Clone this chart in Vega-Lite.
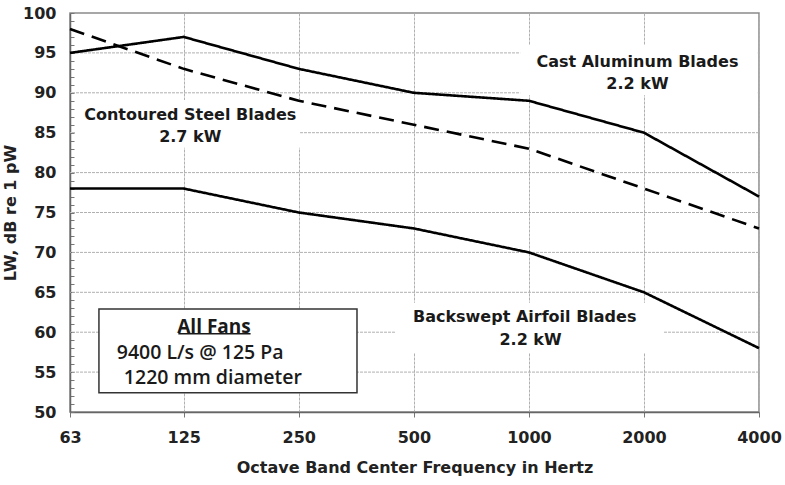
{
  "$schema": "https://vega.github.io/schema/vega-lite/v6.json",
  "width": 689,
  "height": 399,
  "autosize": "none",
  "padding": {"left": 70, "top": 13, "right": 26, "bottom": 73},
  "background": "white",
  "config": {
    "view": {"stroke": "#8a8a8a", "strokeWidth": 1.5},
    "font": "DejaVu Sans",
    "axis": {
      "labelFont": "DejaVu Sans", "labelFontWeight": "bold", "labelFontSize": 16, "labelColor": "#222",
      "titleFont": "DejaVu Sans", "titleFontWeight": "bold", "titleFontSize": 16, "titleColor": "#222",
      "domainColor": "#666", "domainWidth": 1.5, "tickColor": "#777",
      "gridColor": "#b0b0b0", "gridDash": [3, 1], "gridWidth": 1, "labelOverlap": false
    }
  },
  "datasets": {
    "lines": [
      {"series": "Cast Aluminum", "freq": 63, "lw": 95},
      {"series": "Cast Aluminum", "freq": 125, "lw": 97},
      {"series": "Cast Aluminum", "freq": 250, "lw": 93},
      {"series": "Cast Aluminum", "freq": 500, "lw": 90},
      {"series": "Cast Aluminum", "freq": 1000, "lw": 89},
      {"series": "Cast Aluminum", "freq": 2000, "lw": 85},
      {"series": "Cast Aluminum", "freq": 4000, "lw": 77},
      {"series": "Contoured Steel", "freq": 63, "lw": 98},
      {"series": "Contoured Steel", "freq": 125, "lw": 93},
      {"series": "Contoured Steel", "freq": 250, "lw": 89},
      {"series": "Contoured Steel", "freq": 500, "lw": 86},
      {"series": "Contoured Steel", "freq": 1000, "lw": 83},
      {"series": "Contoured Steel", "freq": 2000, "lw": 78},
      {"series": "Contoured Steel", "freq": 4000, "lw": 73},
      {"series": "Backswept Airfoil", "freq": 63, "lw": 78},
      {"series": "Backswept Airfoil", "freq": 125, "lw": 78},
      {"series": "Backswept Airfoil", "freq": 250, "lw": 75},
      {"series": "Backswept Airfoil", "freq": 500, "lw": 73},
      {"series": "Backswept Airfoil", "freq": 1000, "lw": 70},
      {"series": "Backswept Airfoil", "freq": 2000, "lw": 65},
      {"series": "Backswept Airfoil", "freq": 4000, "lw": 58}
    ],
    "hgrid": [
      {"lw": 55}, {"lw": 60}, {"lw": 65}, {"lw": 70}, {"lw": 75},
      {"lw": 80}, {"lw": 85}, {"lw": 90}, {"lw": 95}
    ],
    "masks": [
      {"f1": 65, "f2": 252, "v1": 89.1, "v2": 83.1},
      {"f1": 949, "f2": 3970, "v1": 96.0, "v2": 89.7},
      {"f1": 447, "f2": 2243, "v1": 63.7, "v2": 57.4}
    ],
    "labels": [
      {"text": "Contoured Steel Blades", "freq": 130, "lw": 87.2},
      {"text": "2.7 kW", "freq": 130, "lw": 84.5},
      {"text": "Cast Aluminum Blades", "freq": 1923, "lw": 93.9},
      {"text": "2.2 kW", "freq": 1923, "lw": 91.1},
      {"text": "Backswept Airfoil Blades", "freq": 975, "lw": 61.9},
      {"text": "2.2 kW", "freq": 1010, "lw": 59.0}
    ],
    "box": [{"f1": 75, "f2": 355, "v1": 62.9, "v2": 52.4}],
    "boxtitle": [{"text": "All Fans", "freq": 150, "lw": 60.6}],
    "boxtext": [
      {"text": "9400 L/s  @ 125 Pa", "freq": 138, "lw": 57.4},
      {"text": "1220 mm diameter", "freq": 149, "lw": 54.3}
    ],
    "underline": [{"f1": 121, "f2": 187, "v": 59.8}]
  },
  "layer": [
    {
      "data": {"name": "hgrid"},
      "mark": {"type": "rule", "color": "#b0b0b0", "strokeWidth": 1, "strokeDash": [3, 1]},
      "encoding": {
        "y": {"field": "lw", "type": "quantitative",
          "scale": {"domain": [50, 100], "nice": false, "zero": false},
          "axis": {"values": [50,51,52,53,54,55,56,57,58,59,60,61,62,63,64,65,66,67,68,69,70,71,72,73,74,75,76,77,78,79,80,81,82,83,84,85,86,87,88,89,90,91,92,93,94,95,96,97,98,99,100],
            "tickCount": 100,
            "labelExpr": "datum.value % 5 === 0 ? format(datum.value, 'd') : ''",
            "labelOverlap": false,
            "grid": false,
            "tickSize": -4, "labelPadding": 18, "title": "LW, dB re 1 pW", "titlePadding": 4}}
      }
    },
    {
      "data": {"name": "masks"},
      "mark": {"type": "rect", "fill": "white", "stroke": null},
      "encoding": {
        "x": {"field": "f1", "type": "quantitative",
          "scale": {"type": "log", "base": 2, "domain": [63, 4000], "nice": false},
          "axis": {"values": [63, 125, 250, 500, 1000, 2000, 4000], "labelExpr": "format(datum.value, 'd')", "title": "Octave Band Center Frequency in Hertz",
            "grid": true, "tickCount": 20, "tickSize": 5, "labelPadding": 12, "titlePadding": 14, "labelFlush": false, "labelOverlap": false}},
        "x2": {"field": "f2"},
        "y": {"field": "v1", "type": "quantitative"},
        "y2": {"field": "v2"}
      }
    },
    {
      "data": {"name": "lines"},
      "mark": {"type": "line", "color": "black", "strokeWidth": 2.6},
      "encoding": {
        "x": {"field": "freq", "type": "quantitative"},
        "y": {"field": "lw", "type": "quantitative"},
        "detail": {"field": "series"},
        "strokeDash": {"field": "series", "type": "nominal",
          "scale": {"domain": ["Cast Aluminum", "Contoured Steel", "Backswept Airfoil"], "range": [[1, 0], [15, 8], [1, 0]]},
          "legend": null}
      }
    },
    {
      "data": {"name": "labels"},
      "mark": {"type": "text", "font": "DejaVu Sans", "fontWeight": "bold", "fontSize": 16, "color": "#1a1a1a", "align": "center", "baseline": "middle"},
      "encoding": {
        "x": {"field": "freq", "type": "quantitative"},
        "y": {"field": "lw", "type": "quantitative"},
        "text": {"field": "text"}
      }
    },
    {
      "data": {"name": "box"},
      "mark": {"type": "rect", "fill": "white", "stroke": "#333", "strokeWidth": 1.5},
      "encoding": {
        "x": {"field": "f1", "type": "quantitative"},
        "x2": {"field": "f2"},
        "y": {"field": "v1", "type": "quantitative"},
        "y2": {"field": "v2"}
      }
    },
    {
      "data": {"name": "boxtitle"},
      "mark": {"type": "text", "font": "Open Sans", "fontWeight": "bold", "fontSize": 19, "color": "#1a1a1a", "align": "center", "baseline": "middle"},
      "encoding": {
        "x": {"field": "freq", "type": "quantitative"},
        "y": {"field": "lw", "type": "quantitative"},
        "text": {"field": "text"}
      }
    },
    {
      "data": {"name": "boxtext"},
      "mark": {"type": "text", "font": "Open Sans", "fontWeight": 600, "fontSize": 19.5, "color": "#1a1a1a", "align": "center", "baseline": "middle"},
      "encoding": {
        "x": {"field": "freq", "type": "quantitative"},
        "y": {"field": "lw", "type": "quantitative"},
        "text": {"field": "text"}
      }
    },
    {
      "data": {"name": "underline"},
      "mark": {"type": "rule", "color": "#1a1a1a", "strokeWidth": 1.5},
      "encoding": {
        "x": {"field": "f1", "type": "quantitative"},
        "x2": {"field": "f2"},
        "y": {"field": "v", "type": "quantitative"}
      }
    }
  ]
}
